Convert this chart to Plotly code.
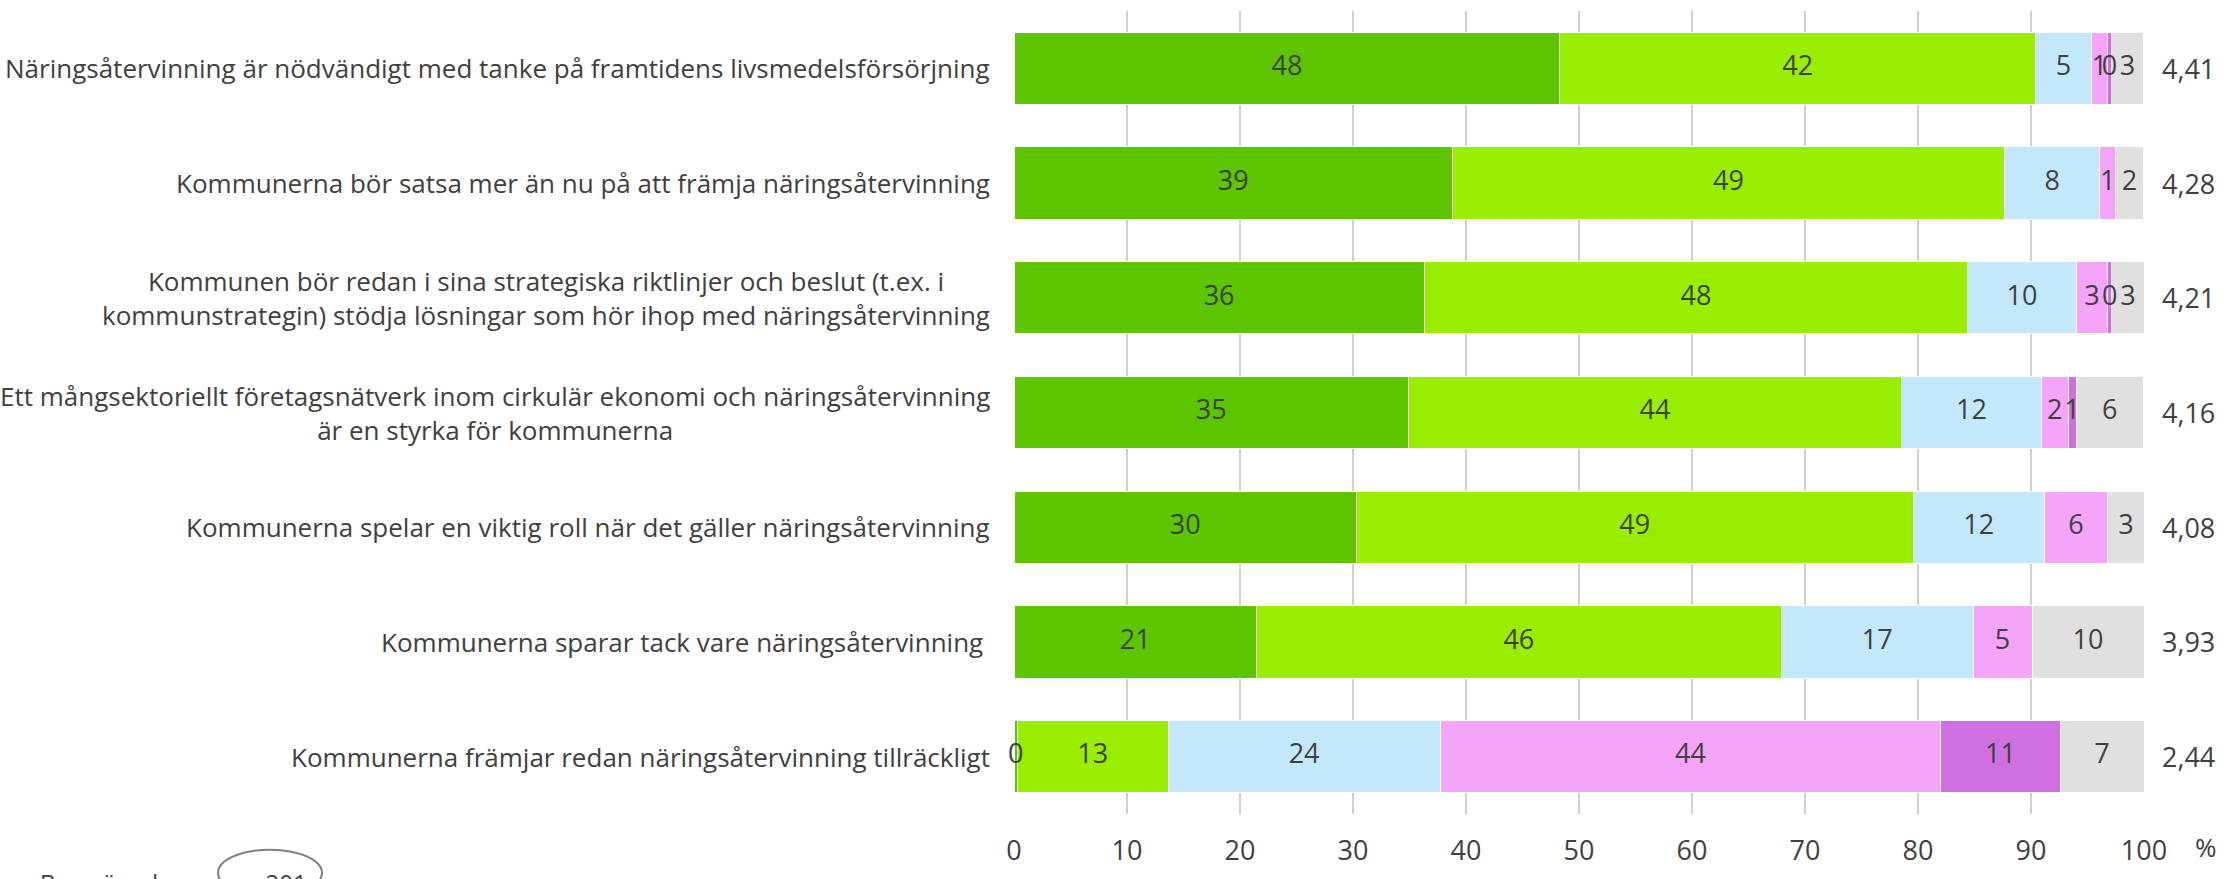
import plotly.graph_objects as go

categories = [
    "Näringsåtervinning är nödvändigt med tanke på framtidens livsmedelsförsörjning",
    "Kommunerna bör satsa mer än nu på att främja näringsåtervinning",
    "Kommunen bör redan i sina strategiska riktlinjer och beslut (t.ex. i<br>kommunstrategin) stödja lösningar som hör ihop med näringsåtervinning",
    "Ett mångsektoriellt företagsnätverk inom cirkulär ekonomi och näringsåtervinning<br>är en styrka för kommunerna",
    "Kommunerna spelar en viktig roll när det gäller näringsåtervinning",
    "Kommunerna sparar tack vare näringsåtervinning\u00a0",
    "Kommunerna främjar redan näringsåtervinning tillräckligt",
]
cat_ids = [f"c{i}" for i in range(len(categories))]

s_dark_green = [48.3, 38.8, 36.3, 34.9, 30.3, 21.45, 0.3]
s_light_green = [42.1, 48.85, 48.1, 43.65, 49.26, 46.45, 13.35]
s_blue = [4.94, 8.44, 9.6, 12.35, 11.62, 16.98, 24.05]
s_pink = [1.42, 1.41, 2.8, 2.4, 5.61, 5.21, 44.33]
s_purple = [0.35, 0.0, 0.35, 0.7, 0.0, 0.0, 10.54]
s_gray = [2.85, 2.45, 2.85, 5.95, 3.21, 9.91, 7.43]

means = ["4,41", "4,28", "4,21", "4,16", "4,08", "3,93", "2,44"]
x_ticks = [0, 10, 20, 30, 40, 50, 60, 70, 80, 90, 100]

series = [
    (s_dark_green, "#5CC500"),
    (s_light_green, "#99EE00"),
    (s_blue, "#C4E8FB"),
    (s_pink, "#F4A4F9"),
    (s_purple, "#D070E0"),
    (s_gray, "#E0E0E0"),
]

W, H = 2229, 879
L, R, T, B = 1014, 85, 11, 57
pw = W - L - R
ph = H - T - B

def px_to_paper_x(px):
    return (px - L) / pw

def px_to_paper_y(py):
    return (H - B - py) / ph

TXT = "#404040"
FONT = "Open Sans"

fig = go.Figure()
for vals, col in series:
    fig.add_trace(go.Bar(
        y=cat_ids, x=vals, orientation="h",
        marker=dict(color=col, line=dict(color="white", width=1)),
        hoverinfo="skip", showlegend=False,
    ))

# value labels drawn on top of all segments (centre of each stacked segment)
cum = [0.0] * len(cat_ids)
lab_x, lab_y, lab_t = [], [], []
for vals, _ in series:
    for i, v in enumerate(vals):
        if v > 0:
            lab_x.append(cum[i] + v / 2)
            lab_y.append(cat_ids[i])
            lab_t.append(f"{v:.0f}")
        cum[i] += v
fig.add_trace(go.Scatter(
    x=lab_x, y=lab_y, text=lab_t, mode="text", cliponaxis=False,
    textposition="middle center",
    textfont=dict(family=FONT, size=27, color=TXT),
    hoverinfo="skip", showlegend=False,
))

annotations = []
for cid, lab, m in zip(cat_ids, categories, means):
    annotations.append(dict(
        xref="paper", yref="y", x=0, y=cid, xanchor="right", xshift=-22,
        text=lab, showarrow=False, align="center",
        font=dict(family=FONT, size=26, color=TXT)))
    annotations.append(dict(
        xref="paper", yref="y", x=px_to_paper_x(2188), y=cid, xanchor="center",
        text=m, showarrow=False, font=dict(family=FONT, size=27, color=TXT)))

annotations.append(dict(
    xref="paper", yref="paper", x=px_to_paper_x(2206), y=px_to_paper_y(855),
    text="%", showarrow=False, xanchor="center", yanchor="middle",
    font=dict(family=FONT, size=26, color=TXT)))
annotations.append(dict(
    xref="paper", yref="paper", x=px_to_paper_x(38), y=px_to_paper_y(872),
    text="Basmängd", showarrow=False, xanchor="left", yanchor="top",
    font=dict(family=FONT, size=24, color=TXT)))
annotations.append(dict(
    xref="paper", yref="paper", x=px_to_paper_x(272), y=px_to_paper_y(872),
    text="n=201", showarrow=False, xanchor="center", yanchor="top",
    font=dict(family=FONT, size=24, color=TXT)))

shapes = [dict(
    type="circle", xref="paper", yref="paper",
    x0=px_to_paper_x(218), x1=px_to_paper_x(322),
    y0=px_to_paper_y(858), y1=px_to_paper_y(905),
    line=dict(color="#808080", width=2))]

fig.update_layout(
    width=W, height=H,
    margin=dict(l=L, r=R, t=T, b=B),
    plot_bgcolor="white", paper_bgcolor="white",
    barmode="stack", bargap=0.37,
    annotations=annotations, shapes=shapes,
    xaxis=dict(
        range=[0, 100], tickvals=x_ticks, ticktext=[str(v) for v in x_ticks],
        showgrid=True, gridcolor="#D0D0D0", gridwidth=1.5,
        zeroline=False, showline=False, ticks="",
        ticklabelstandoff=18,
        tickfont=dict(family=FONT, size=27, color=TXT),
    ),
    yaxis=dict(
        categoryorder="array", categoryarray=cat_ids, autorange="reversed",
        showticklabels=False, showgrid=False, zeroline=False, ticks="",
    ),
)

fig.write_html(
    "out.html",
    config={"displayModeBar": False},
    post_script="document.body.style.margin='0';document.body.style.overflow='hidden';",
)
